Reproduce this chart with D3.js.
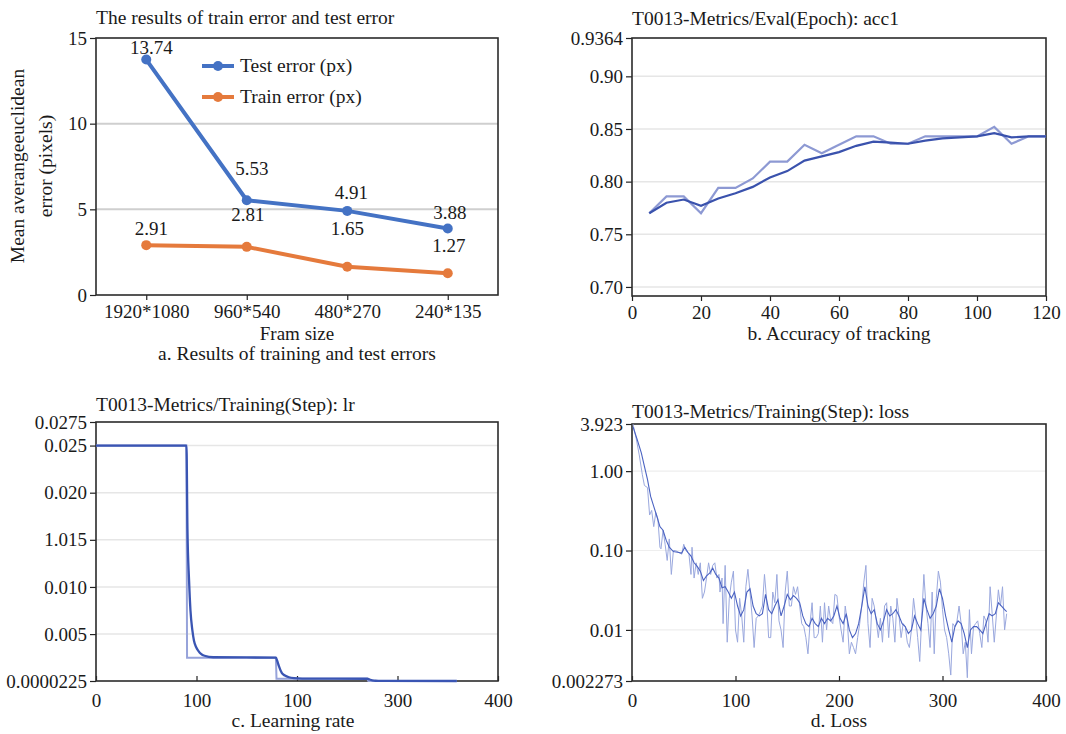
<!DOCTYPE html>
<html>
<head>
<meta charset="utf-8">
<script src="https://cdn.jsdelivr.net/npm/d3@7"></script>
<style>
  body { margin: 0; background: #fff; }
  svg text { font-family: "Liberation Serif", "Times New Roman", serif; fill: #1a1a1a; }
</style>
</head>
<body>
<svg width="1066" height="734"></svg>
<script>
// ---- panel a: train / test error by frame size
var frameSizes = ["1920*1080", "960*540", "480*270", "240*135"];
var testError = [13.74, 5.53, 4.91, 3.88];
var trainError = [2.91, 2.81, 1.65, 1.27];
var errTicks = [0, 5, 10, 15];

// ---- panel b: eval accuracy per epoch
var accEpochs = [5, 10, 15, 20, 25, 30, 35, 40, 45, 50, 55, 60, 65, 70, 75, 80, 85, 90, 95, 100, 105, 110, 115, 120];
var accRaw = [0.770, 0.786, 0.786, 0.770, 0.794, 0.794, 0.803, 0.819, 0.819, 0.835, 0.827, 0.835, 0.843, 0.843, 0.836, 0.836, 0.843, 0.843, 0.843, 0.843, 0.852, 0.836, 0.843, 0.843];
var accSmooth = [0.770, 0.780, 0.783, 0.777, 0.784, 0.789, 0.795, 0.804, 0.810, 0.820, 0.824, 0.828, 0.834, 0.838, 0.837, 0.836, 0.839, 0.841, 0.842, 0.843, 0.846, 0.842, 0.843, 0.843];
var accTicks = [0.70, 0.75, 0.80, 0.85, 0.90, 0.9364];
var accTickLabels = ["0.70", "0.75", "0.80", "0.85", "0.90", "0.9364"];
var accXTicks = [0, 20, 40, 60, 80, 100, 120];

// ---- panel c: learning rate per step
var lrRawSteps = [0, 90, 90.6, 179, 179.6, 270, 271, 359];
var lrRaw = [0.025, 0.025, 0.0025, 0.0025, 0.00026, 0.00026, 0.000025, 0.000025];
var lrSmoothSteps = [0, 90, 91, 92.6, 94, 95.9, 97.5, 99.7, 102, 104.5, 108, 116.7, 179, 180.5, 182, 185, 188, 192, 197, 205, 270, 272, 275, 278, 284, 359];
var lrSmooth = [0.025, 0.025, 0.0161, 0.0107, 0.0075, 0.0054, 0.0043, 0.0036, 0.0032, 0.0029, 0.0027, 0.00254, 0.0025, 0.0021, 0.0016, 0.00085, 0.0006, 0.00042, 0.00032, 0.00027, 0.00026, 0.00019, 0.0001, 0.00005, 0.00003, 0.000025];
var lrTicks = [0.0000225, 0.005, 0.010, 0.015, 0.020, 0.025, 0.0275];
var lrTickLabels = ["0.0000225", "0.005", "0.010", "1.015", "0.020", "0.025", "0.0275"];
var stepTicks = [0, 100, 200, 300, 400];
var lrXTickLabels = ["0", "100", "100", "300", "400"];

// ---- panel d: training loss per step (log)
var lossRawSteps = [1, 4, 7, 10, 12, 15, 17, 19, 21, 23, 25, 27, 28, 30, 32, 34, 36, 38, 40, 42, 45, 48, 50, 52, 55, 57, 58, 60, 62, 64, 66, 68, 70, 72, 74, 76, 78, 80, 82, 84, 85, 87, 88,
  90, 92, 94, 96, 98, 100, 102, 104, 106, 108, 110, 112, 114, 116, 118, 120, 122, 124, 126, 128, 130, 132, 134, 136, 138, 140, 142, 144, 146, 148, 150, 152, 154, 156, 158, 160,
  162, 164, 166, 168, 170, 172, 174, 176, 178, 180, 182, 184, 186, 188, 190, 192, 194, 196, 198, 200, 202, 204, 206, 208, 210, 212, 214, 216, 218, 220, 222, 224, 226, 228, 230,
  232, 234, 236, 238, 240, 242, 244, 246, 248, 250, 252, 254, 256, 258, 260, 262, 264, 266, 268, 270, 272, 274, 276, 278, 280, 282, 284, 286, 288, 290, 292, 294, 296, 298, 300,
  302, 304, 306, 308, 310, 312, 314, 316, 318, 320, 322, 324, 326, 328, 330, 332, 334, 336, 338, 340, 342, 344, 346, 348, 350, 352, 354, 356, 358, 360, 362];
var lossRaw = [3.9, 2.6, 1.6, 0.9, 0.66, 0.62, 0.28, 0.32, 0.2, 0.3, 0.25, 0.11, 0.105, 0.18, 0.12, 0.075, 0.14, 0.05, 0.1, 0.1, 0.095, 0.09, 0.12, 0.1, 0.09, 0.05, 0.11, 0.045, 0.07, 0.05, 0.07, 0.025, 0.03, 0.045, 0.07, 0.05, 0.065, 0.07, 0.045, 0.05, 0.03, 0.045, 0.012,
  0.065, 0.007, 0.025, 0.04, 0.055, 0.01, 0.007, 0.025, 0.015, 0.007, 0.035, 0.058, 0.03, 0.015, 0.006, 0.014, 0.015, 0.017, 0.02, 0.05, 0.025, 0.008, 0.008, 0.03, 0.022, 0.05, 0.013, 0.01, 0.006, 0.03, 0.055, 0.02, 0.02, 0.035, 0.028, 0.035,
  0.02, 0.012, 0.011, 0.008, 0.005, 0.012, 0.022, 0.008, 0.008, 0.009, 0.02, 0.007, 0.022, 0.01, 0.02, 0.013, 0.012, 0.028, 0.027, 0.015, 0.01, 0.007, 0.02, 0.013, 0.005, 0.007, 0.006, 0.005, 0.008, 0.012, 0.02, 0.04, 0.065, 0.012, 0.006,
  0.025, 0.02, 0.013, 0.008, 0.014, 0.007, 0.02, 0.022, 0.008, 0.02, 0.014, 0.007, 0.025, 0.015, 0.008, 0.012, 0.011, 0.007, 0.006, 0.01, 0.025, 0.015, 0.008, 0.004, 0.015, 0.05, 0.02, 0.012, 0.006, 0.03, 0.005, 0.025, 0.055, 0.04, 0.018,
  0.01, 0.008, 0.005, 0.0027, 0.012, 0.011, 0.013, 0.02, 0.012, 0.005, 0.007, 0.0025, 0.018, 0.005, 0.011, 0.012, 0.013, 0.009, 0.006, 0.015, 0.013, 0.007, 0.035, 0.016, 0.007, 0.015, 0.032, 0.02, 0.035, 0.01, 0.016];
var lossSmoothSteps = [1, 5, 9, 12, 15, 18, 21, 24, 27, 30, 33, 36, 40, 44, 48, 51, 54, 57, 60, 63, 66, 69, 72, 75, 78, 81, 84, 87, 90, 93, 96, 99, 102, 105, 108, 111, 114, 117, 120,
  123, 126, 129, 132, 135, 138, 141, 144, 147, 150, 153, 156, 159, 162, 165, 168, 171, 174, 177, 180, 183, 186, 189, 192, 195, 198, 201, 204, 207, 210, 213, 216, 219, 222, 225,
  228, 231, 234, 237, 240, 243, 246, 249, 252, 255, 258, 261, 264, 267, 270, 273, 276, 279, 282, 285, 288, 291, 294, 297, 300, 303, 306, 309, 312, 315, 318, 321, 324, 327, 330,
  333, 336, 339, 342, 345, 348, 351, 354, 357, 360, 362];
var lossSmooth = [3.6, 2.5, 1.7, 1.15, 0.78, 0.48, 0.36, 0.27, 0.2, 0.18, 0.135, 0.11, 0.097, 0.095, 0.093, 0.11, 0.095, 0.085, 0.07, 0.063, 0.055, 0.042, 0.048, 0.052, 0.06, 0.05, 0.045, 0.034, 0.035, 0.03, 0.025, 0.03, 0.02, 0.015, 0.018, 0.03, 0.033, 0.02, 0.016,
  0.015, 0.016, 0.028, 0.018, 0.016, 0.02, 0.024, 0.015, 0.02, 0.028, 0.024, 0.027, 0.025, 0.022, 0.015, 0.012, 0.011, 0.014, 0.012, 0.011, 0.014, 0.012, 0.014, 0.013, 0.015, 0.02, 0.014, 0.012, 0.016, 0.01, 0.008, 0.009, 0.012, 0.02, 0.035,
  0.02, 0.016, 0.018, 0.012, 0.01, 0.013, 0.018, 0.015, 0.016, 0.018, 0.015, 0.012, 0.011, 0.009, 0.01, 0.015, 0.012, 0.01, 0.025, 0.018, 0.014, 0.016, 0.02, 0.033, 0.025, 0.015, 0.01, 0.007, 0.011, 0.013, 0.012, 0.009, 0.006, 0.01, 0.011,
  0.011, 0.01, 0.009, 0.012, 0.016, 0.015, 0.016, 0.022, 0.02, 0.018, 0.017];
var lossTicks = [0.002273, 0.01, 0.1, 1, 3.923];
var lossTickLabels = ["0.002273", "0.01", "0.10", "1.00", "3.923"];

var svg = d3.select("svg");
svg.append("rect").attr("width", 1066).attr("height", 734).attr("fill", "#fff");

var tickFont = "19px", titleFont = "19.5px", capFont = "19.5px";

// draws the plot box, grid and axes for one panel
function frame(box, x, y, opt) {
    var g = svg.append("g");
    g.selectAll("line.grid")
        .data(opt.grid)
        .enter().append("line")
        .attr("class", "grid")
        .attr("x1", box.l).attr("x2", box.r)
        .attr("y1", function(d) { return y(d); })
        .attr("y2", function(d) { return y(d); })
        .attr("stroke", opt.gridColor)
        .attr("stroke-width", opt.gridWidth);

    var ya = d3.axisLeft(y).tickValues(opt.yTicks).tickSize(6).tickPadding(3);
    if (opt.yLabels) ya.tickFormat(function(d, i) { return opt.yLabels[i]; });
    var gy = g.append("g").attr("transform", "translate(" + box.l + ",0)").call(ya);

    var xa = d3.axisBottom(x).tickSize(opt.xTickIn ? -5 : 5).tickPadding(opt.xTickIn ? 13 : 5);
    if (opt.xTicks) xa.tickValues(opt.xTicks);
    if (opt.xLabels) xa.tickFormat(function(d, i) { return opt.xLabels[i]; });
    var gx = g.append("g").attr("transform", "translate(0," + box.b + ")").call(xa);

    [gx, gy].forEach(function(a) {
        a.select(".domain").remove();
        a.selectAll("text").style("font-size", tickFont).attr("fill", "#1a1a1a");
        a.selectAll("line").attr("stroke", "#222").attr("stroke-width", 1.2);
    });

    g.append("rect")
        .attr("x", box.l).attr("y", box.t)
        .attr("width", box.r - box.l).attr("height", box.b - box.t)
        .attr("fill", "none").attr("stroke", "#2b2b2b").attr("stroke-width", 1.6);
    return g;
}

function text(x, y, str, size, anchor) {
    return svg.append("text").attr("x", x).attr("y", y)
        .attr("text-anchor", anchor || "start")
        .style("font-size", size).text(str);
}

// ================= a =================
var boxA = {l: 96, t: 38, r: 498, b: 295};
var xA = d3.scalePoint().domain(frameSizes).range([boxA.l, boxA.r]).padding(0.5);
var yA = d3.scaleLinear().domain([0, 15]).range([boxA.b, boxA.t]);
frame(boxA, xA, yA, {grid: [5, 10], gridColor: "#cfcfcf", gridWidth: 2, yTicks: errTicks});

var blue = "#4472c4", orange = "#e57a3c";
var lineA = d3.line().x(function(d, i) { return xA(frameSizes[i]); }).y(function(d) { return yA(d); });
[[trainError, orange], [testError, blue]].forEach(function(s) {
    svg.append("path").attr("d", lineA(s[0])).attr("fill", "none")
        .attr("stroke", s[1]).attr("stroke-width", 4).attr("stroke-linejoin", "round");
    svg.selectAll(null).data(s[0]).enter().append("circle")
        .attr("cx", function(d, i) { return xA(frameSizes[i]); })
        .attr("cy", function(d) { return yA(d); })
        .attr("r", 5).attr("fill", s[1]);
});
// label offsets (dx, dy) relative to each point
var testOff = [[5, -6], [5, -25], [4, -12], [2, -10]];
var trainOff = [[5, -10], [1, -26], [0, -32], [1, -21]];
[[testError, testOff], [trainError, trainOff]].forEach(function(s) {
    s[0].forEach(function(v, i) {
        text(xA(frameSizes[i]) + s[1][i][0], yA(v) + s[1][i][1], v.toFixed(2), "19px", "middle");
    });
});
// legend
[["Test error (px)", blue, 66], ["Train error (px)", orange, 97]].forEach(function(l) {
    svg.append("line").attr("x1", 202).attr("x2", 234).attr("y1", l[2]).attr("y2", l[2])
        .attr("stroke", l[1]).attr("stroke-width", 4);
    svg.append("circle").attr("cx", 218).attr("cy", l[2]).attr("r", 5).attr("fill", l[1]);
    text(240, l[2] + 6, l[0], "19.5px");
});
text(96, 24, "The results of train error and test error", titleFont);
text(0, 0, "Mean averangeeuclidean", "19.5px", "middle").attr("transform", "translate(24,166) rotate(-90)");
text(0, 0, "error (pixels)", "19.5px", "middle").attr("transform", "translate(52,166) rotate(-90)");
text(297, 340, "Fram size", "19px", "middle");
text(297, 360, "a. Results of training and test errors", capFont, "middle");

// ================= b =================
var boxB = {l: 632, t: 38, r: 1046, b: 296};
var xB = d3.scaleLinear().domain([0, 120]).range([boxB.l, boxB.r]);
var yB = d3.scaleLinear().domain([0.6914, 0.9364]).range([boxB.b, boxB.t]);
frame(boxB, xB, yB, {grid: [0.70, 0.75, 0.80, 0.85, 0.90], gridColor: "#e6e6e6", gridWidth: 1.5,
    yTicks: accTicks, yLabels: accTickLabels, xTicks: accXTicks});
var lineB = d3.line().x(function(d, i) { return xB(accEpochs[i]); }).y(function(d) { return yB(d); });
svg.append("path").attr("d", lineB(accRaw)).attr("fill", "none").attr("stroke", "#8d99d3").attr("stroke-width", 2.2);
svg.append("path").attr("d", lineB(accSmooth)).attr("fill", "none").attr("stroke", "#3a52ad").attr("stroke-width", 2.2);
text(632, 25, "T0013-Metrics/Eval(Epoch): acc1", titleFont);
text(839, 340, "b. Accuracy of tracking", capFont, "middle");

// ================= c =================
var boxC = {l: 96, t: 422, r: 498, b: 681};
var xC = d3.scaleLinear().domain([0, 400]).range([boxC.l, boxC.r]);
var yC = d3.scaleLinear().domain([0.0000225, 0.0275]).range([boxC.b, boxC.t]);
frame(boxC, xC, yC, {grid: [0.005, 0.010, 0.015, 0.020, 0.025], gridColor: "#e6e6e6", gridWidth: 1.5,
    yTicks: lrTicks, yLabels: lrTickLabels, xTicks: stepTicks, xLabels: lrXTickLabels, xTickIn: true});
svg.append("path")
    .attr("d", d3.line().x(function(d, i) { return xC(lrRawSteps[i]); }).y(function(d) { return yC(d); })(lrRaw))
    .attr("fill", "none").attr("stroke", "#97a3da").attr("stroke-width", 2);
svg.append("path")
    .attr("d", d3.line().curve(d3.curveMonotoneX).x(function(d, i) { return xC(lrSmoothSteps[i]); }).y(function(d) { return yC(d); })(lrSmooth))
    .attr("fill", "none").attr("stroke", "#3a55b3").attr("stroke-width", 2.3);
text(96, 411, "T0013-Metrics/Training(Step): lr", titleFont);
text(293, 727, "c. Learning rate", capFont, "middle");

// ================= d =================
var boxD = {l: 632, t: 424, r: 1046, b: 681};
var xD = d3.scaleLinear().domain([0, 400]).range([boxD.l, boxD.r]);
var yD = d3.scaleLog().domain([0.002273, 3.923]).range([boxD.b, boxD.t]);
frame(boxD, xD, yD, {grid: [0.01, 0.1, 1], gridColor: "#eeeeee", gridWidth: 1.2,
    yTicks: lossTicks, yLabels: lossTickLabels, xTicks: stepTicks, xTickIn: true});
svg.append("path")
    .attr("d", d3.line().x(function(d, i) { return xD(lossRawSteps[i]); }).y(function(d) { return yD(d); })(lossRaw))
    .attr("fill", "none").attr("stroke", "#9aa8de").attr("stroke-width", 1);
svg.append("path")
    .attr("d", d3.line().x(function(d, i) { return xD(lossSmoothSteps[i]); }).y(function(d) { return yD(d); })(lossSmooth))
    .attr("fill", "none").attr("stroke", "#4b63c2").attr("stroke-width", 1.1);
text(632, 418, "T0013-Metrics/Training(Step): loss", titleFont);
text(839, 727, "d. Loss", capFont, "middle");
</script>
</body>
</html>
